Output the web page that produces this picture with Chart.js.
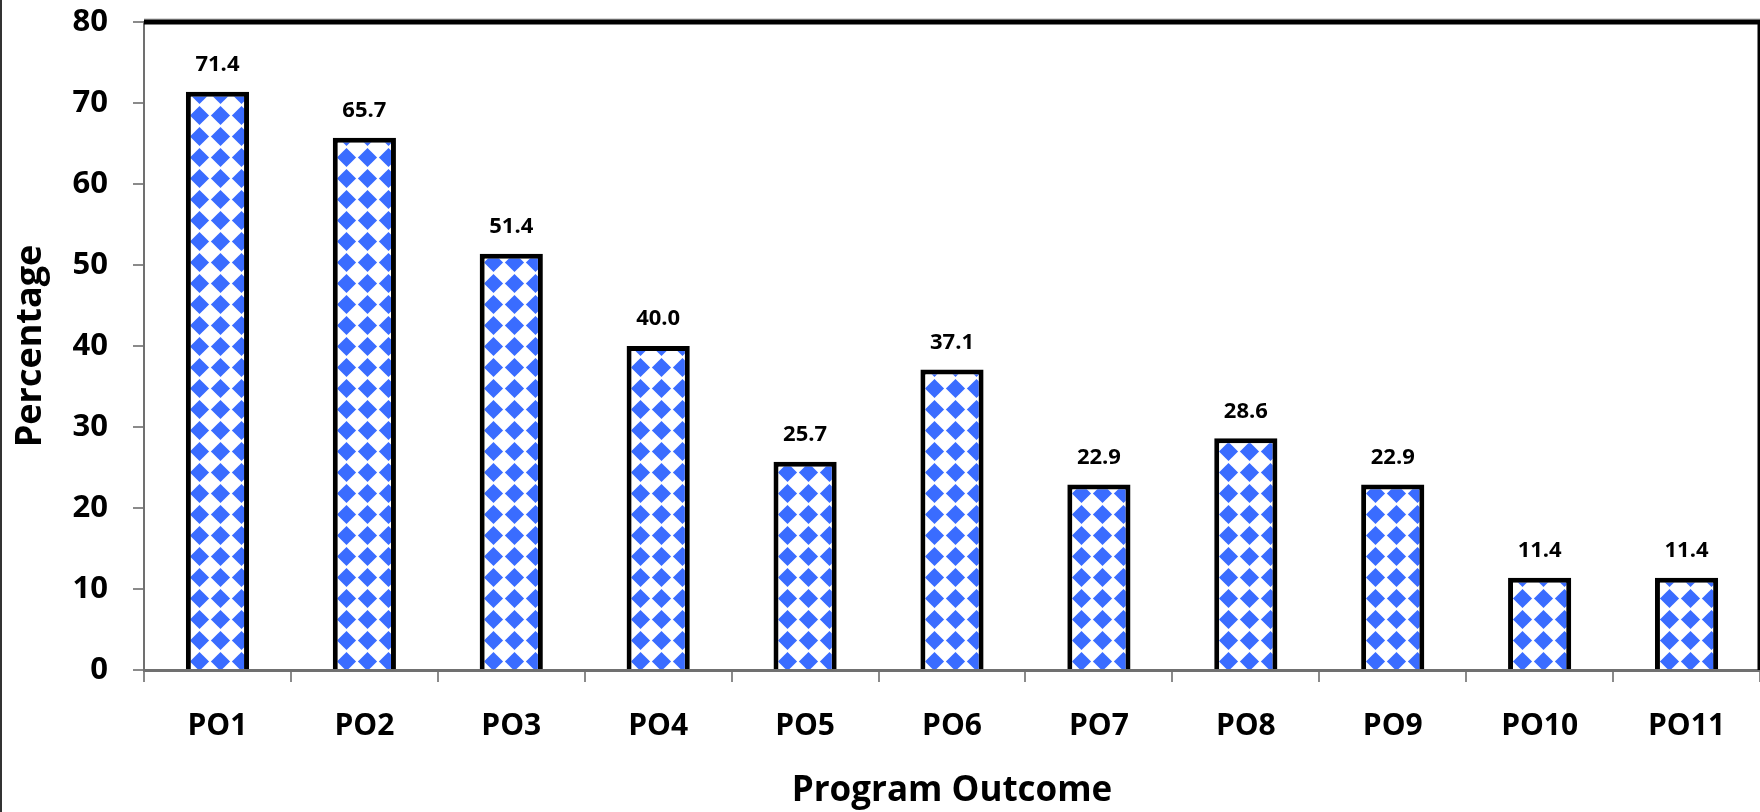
<!DOCTYPE html>
<html>
<head>
<meta charset="utf-8">
<script src="https://cdn.jsdelivr.net/npm/chart.js@4.4.1/dist/chart.umd.min.js"></script>
<style>
    html, body { margin: 0; padding: 0; background: #ffffff; }
    canvas { display: block; }
</style>
</head>
<body>
<canvas id="po-chart" width="1760" height="812"></canvas>
<script>
const outcomes = ["PO1", "PO2", "PO3", "PO4", "PO5", "PO6", "PO7", "PO8", "PO9", "PO10", "PO11"];
const percentages = [71.4, 65.7, 51.4, 40.0, 25.7, 37.1, 22.9, 28.6, 22.9, 11.4, 11.4];
const yTicks = [0, 10, 20, 30, 40, 50, 60, 70, 80];

const FONT = "'Open Sans', 'Noto Sans', sans-serif";

// blue diamond fill for the bars
function diamondPattern() {
    const size = 21;
    const c = document.createElement("canvas");
    c.width = size;
    c.height = size;
    const g = c.getContext("2d");
    g.fillStyle = "#ffffff";
    g.fillRect(0, 0, size, size);
    g.filter = "blur(0.6px)";
    g.fillStyle = "#3a6cff";
    const h = size / 2;
    const r = 9.6;
    g.beginPath();
    g.moveTo(h, h - r);
    g.lineTo(h + r, h);
    g.lineTo(h, h + r);
    g.lineTo(h - r, h);
    g.closePath();
    g.fill();
    return g.createPattern(c, "repeat");
}

// value text above every bar
const valueLabels = {
    id: "valueLabels",
    afterDatasetsDraw(chart) {
        const ctx = chart.ctx;
        const meta = chart.getDatasetMeta(0);
        ctx.save();
        ctx.font = "bold 22px " + FONT;
        ctx.fillStyle = "#000000";
        ctx.textAlign = "center";
        ctx.textBaseline = "middle";
        meta.data.forEach((bar, i) => {
            ctx.fillText(percentages[i].toFixed(1), bar.x, bar.y - 27);
        });
        ctx.restore();
    }
};

// plot frame (top and right) plus the outer left edge
const frame = {
    id: "frame",
    afterDraw(chart) {
        const { ctx, chartArea } = chart;
        ctx.save();
        ctx.strokeStyle = "#b0b0b0";
        ctx.lineWidth = 1;
        ctx.beginPath();
        ctx.moveTo(chartArea.left, chartArea.top - 3);
        ctx.lineTo(chartArea.right, chartArea.top - 3);
        ctx.stroke();
        ctx.strokeStyle = "#000000";
        ctx.lineWidth = 5;
        ctx.beginPath();
        ctx.moveTo(chartArea.left, chartArea.top);
        ctx.lineTo(chartArea.right, chartArea.top);
        ctx.stroke();
        ctx.lineWidth = 3;
        ctx.beginPath();
        ctx.moveTo(chartArea.right - 1, chartArea.top);
        ctx.lineTo(chartArea.right - 1, chartArea.bottom);
        ctx.stroke();
        ctx.strokeStyle = "#333333";
        ctx.lineWidth = 2;
        ctx.beginPath();
        ctx.moveTo(1, 0);
        ctx.lineTo(1, chart.height);
        ctx.stroke();
        ctx.restore();
    }
};

const ctx = document.getElementById("po-chart").getContext("2d");

new Chart(ctx, {
    type: "bar",
    data: {
        labels: outcomes,
        datasets: [
            {
                label: "Percentage",
                data: percentages,
                backgroundColor: diamondPattern(),
                borderColor: "#000000",
                borderWidth: 5,
                borderSkipped: "bottom",
                categoryPercentage: 1,
                barPercentage: 0.43
            }
        ]
    },
    options: {
        responsive: false,
        animation: false,
        devicePixelRatio: 1,
        layout: { padding: { top: 22, right: 0, left: 0, bottom: 0 } },
        plugins: {
            legend: { display: false },
            tooltip: { enabled: false }
        },
        scales: {
            x: {
                afterFit(scale) { scale.height = 142; },
                grid: {
                    offset: true,
                    drawOnChartArea: false,
                    tickLength: 12,
                    color: "#8a8a8a",
                    lineWidth: 2
                },
                border: { color: "#707070", width: 3 },
                ticks: {
                    color: "#000000",
                    padding: 26,
                    font: { family: FONT, size: 30, weight: "bold" }
                },
                title: {
                    display: true,
                    text: "Program Outcome",
                    color: "#000000",
                    padding: { top: 0, bottom: 0 },
                    font: { family: FONT, size: 35, weight: "bold" }
                }
            },
            y: {
                min: 0,
                max: 80,
                afterFit(scale) {
                    scale.width = 144;
                    scale.paddingTop = 0;
                    scale.paddingBottom = 0;
                },
                afterBuildTicks(scale) {
                    scale.ticks = yTicks.map(v => ({ value: v }));
                },
                grid: {
                    drawOnChartArea: false,
                    tickLength: 11,
                    color: "#8a8a8a",
                    lineWidth: 2
                },
                border: { color: "#707070", width: 2 },
                ticks: {
                    color: "#000000",
                    padding: 25,
                    font: { family: FONT, size: 31, weight: "bold" }
                },
                title: {
                    display: true,
                    text: "Percentage",
                    color: "#000000",
                    padding: { top: 9, bottom: 0 },
                    font: { family: FONT, size: 36, weight: "bold" }
                }
            }
        }
    },
    plugins: [valueLabels, frame]
});
</script>
</body>
</html>
